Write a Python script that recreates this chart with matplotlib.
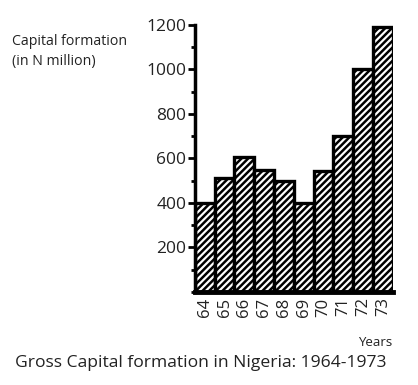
import matplotlib
matplotlib.use('Agg')
import matplotlib.pyplot as plt
from matplotlib.ticker import MultipleLocator

years = ['64', '65', '66', '67', '68', '69', '70', '71', '72', '73']
capital = [400, 510, 605, 550, 500, 400, 545, 700, 1000, 1190]

plt.rcParams['font.family'] = ['Open Sans', 'DejaVu Sans']
plt.rcParams['hatch.linewidth'] = 1.8

fig = plt.figure(figsize=(4.18, 3.85), dpi=100)
ax = fig.add_axes([0.466, 0.242, 0.474, 0.693])

x = list(range(len(years)))
ax.bar(x, capital, width=1.0, color='white', edgecolor='black',
       linewidth=2.4, hatch='/////')

ax.set_xlim(-0.5, len(years) - 0.5)
ax.set_ylim(0, 1200)
ax.set_xticks(x)
ax.set_xticklabels(years, rotation=90, fontsize=12, color='#222222')
ax.set_yticks([200, 400, 600, 800, 1000, 1200])
ax.yaxis.set_minor_locator(MultipleLocator(100))
ax.tick_params(axis='y', which='major', labelsize=12.5, length=5, width=2,
               pad=1, labelcolor='#222222')
ax.tick_params(axis='y', which='minor', length=3, width=2)
ax.tick_params(axis='x', length=0, pad=4)

for s in ['top', 'right']:
    ax.spines[s].set_visible(False)
ax.spines['left'].set_linewidth(2.5)
ax.spines['bottom'].set_linewidth(3.5)

fig.text(0.028, 0.867, 'Capital formation\n(in N million)', fontsize=10.2,
         ha='left', va='center', linespacing=1.45, color='#222222')
fig.text(0.897, 0.11, 'Years', fontsize=9.5, ha='center', va='center',
         color='#222222')
fig.text(0.48, 0.057, 'Gross Capital formation in Nigeria: 1964-1973',
         fontsize=12.6, ha='center', va='center', color='#222222')

fig.savefig('out.png', dpi=100)
